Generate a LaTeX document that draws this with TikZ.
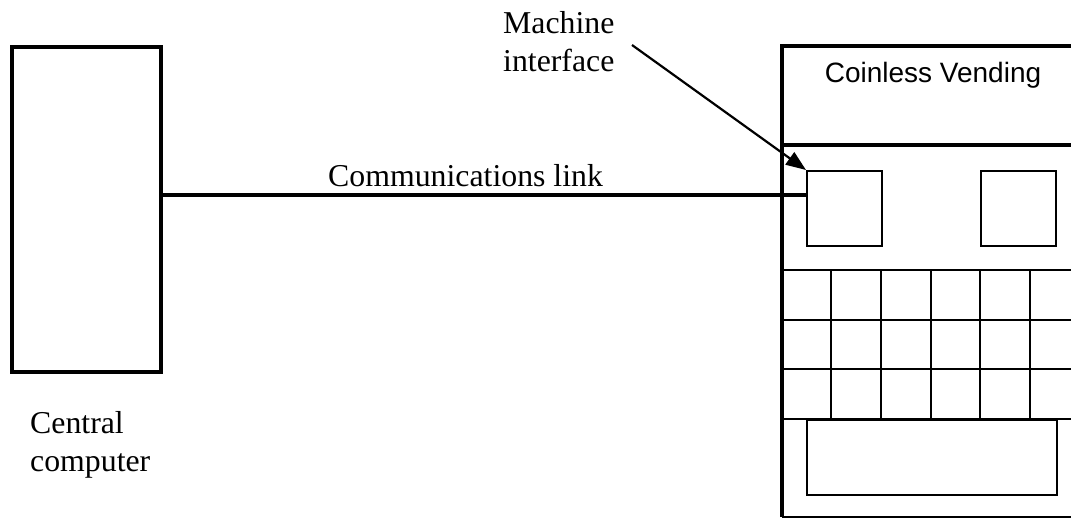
\documentclass[tikz,border=0pt]{standalone}
\usepackage{fontspec}
\setmainfont{Liberation Serif}
\newfontfamily\labelsans{Liberation Sans}
\usetikzlibrary{arrows.meta}

\tikzset{
  heavy/.style={line width=3.6pt},
  light/.style={line width=2pt},
  box/.style={draw, light, inner sep=0pt, anchor=north west},
  caption/.style={inner sep=0pt, anchor=base west, align=left,
    font=\fontsize{31.8}{38}\selectfont},
  pointer/.style={line width=2.2pt, -{Triangle[length=20pt,width=15pt]}}
}

\begin{document}
\begin{tikzpicture}[x=1pt, y=-1pt, line join=miter]
  \useasboundingbox (0,0) rectangle (1071,519);
  \clip (0,0) rectangle (1071,519);

  % central computer
  \node[box, heavy, minimum width=149pt, minimum height=325pt] (computer) at (10,45) {};
  % multi-line captions are placed by the baseline of their last line
  \node[caption] (cclabel) at (30,471) {Central\\computer};

  % vending machine frame (runs off the right side)
  \draw[heavy] (1090,46) -- (782,46) -- (782,517);
  \draw[heavy] (782,145) -- (1090,145);
  \draw[light] (782,517) -- (1090,517);
  \node[inner sep=0pt, anchor=base, font=\labelsans\fontsize{28}{34}\selectfont]
    (title) at (933,83) {Coinless Vending};

  % display windows
  \node[box, minimum width=75pt, minimum height=75pt] (iface) at (806,170) {};
  \node[box, minimum width=75pt, minimum height=75pt] (window) at (980,170) {};

  % selection keypad
  \foreach \y in {270,320,369,419} \draw[light] (782,\y) -- (1090,\y);
  \foreach \x in {831,881,931,980,1030} \draw[light] (\x,270) -- (\x,419);

  % delivery tray
  \node[box, minimum width=250pt, minimum height=75pt] (tray) at (806,419) {};

  % communications link
  \coordinate (linky) at (0,195);
  \draw[heavy] (computer.east |- linky) -- (iface.west |- linky);
  \node[caption] (linklabel) at (328,186) {Communications link};

  % machine interface callout
  \node[caption] (milabel) at (503,72) {Machine\\interface};
  \coordinate (mistart) at (632,45);
  \draw[pointer] (mistart) -- (iface.north west);
\end{tikzpicture}
\end{document}
